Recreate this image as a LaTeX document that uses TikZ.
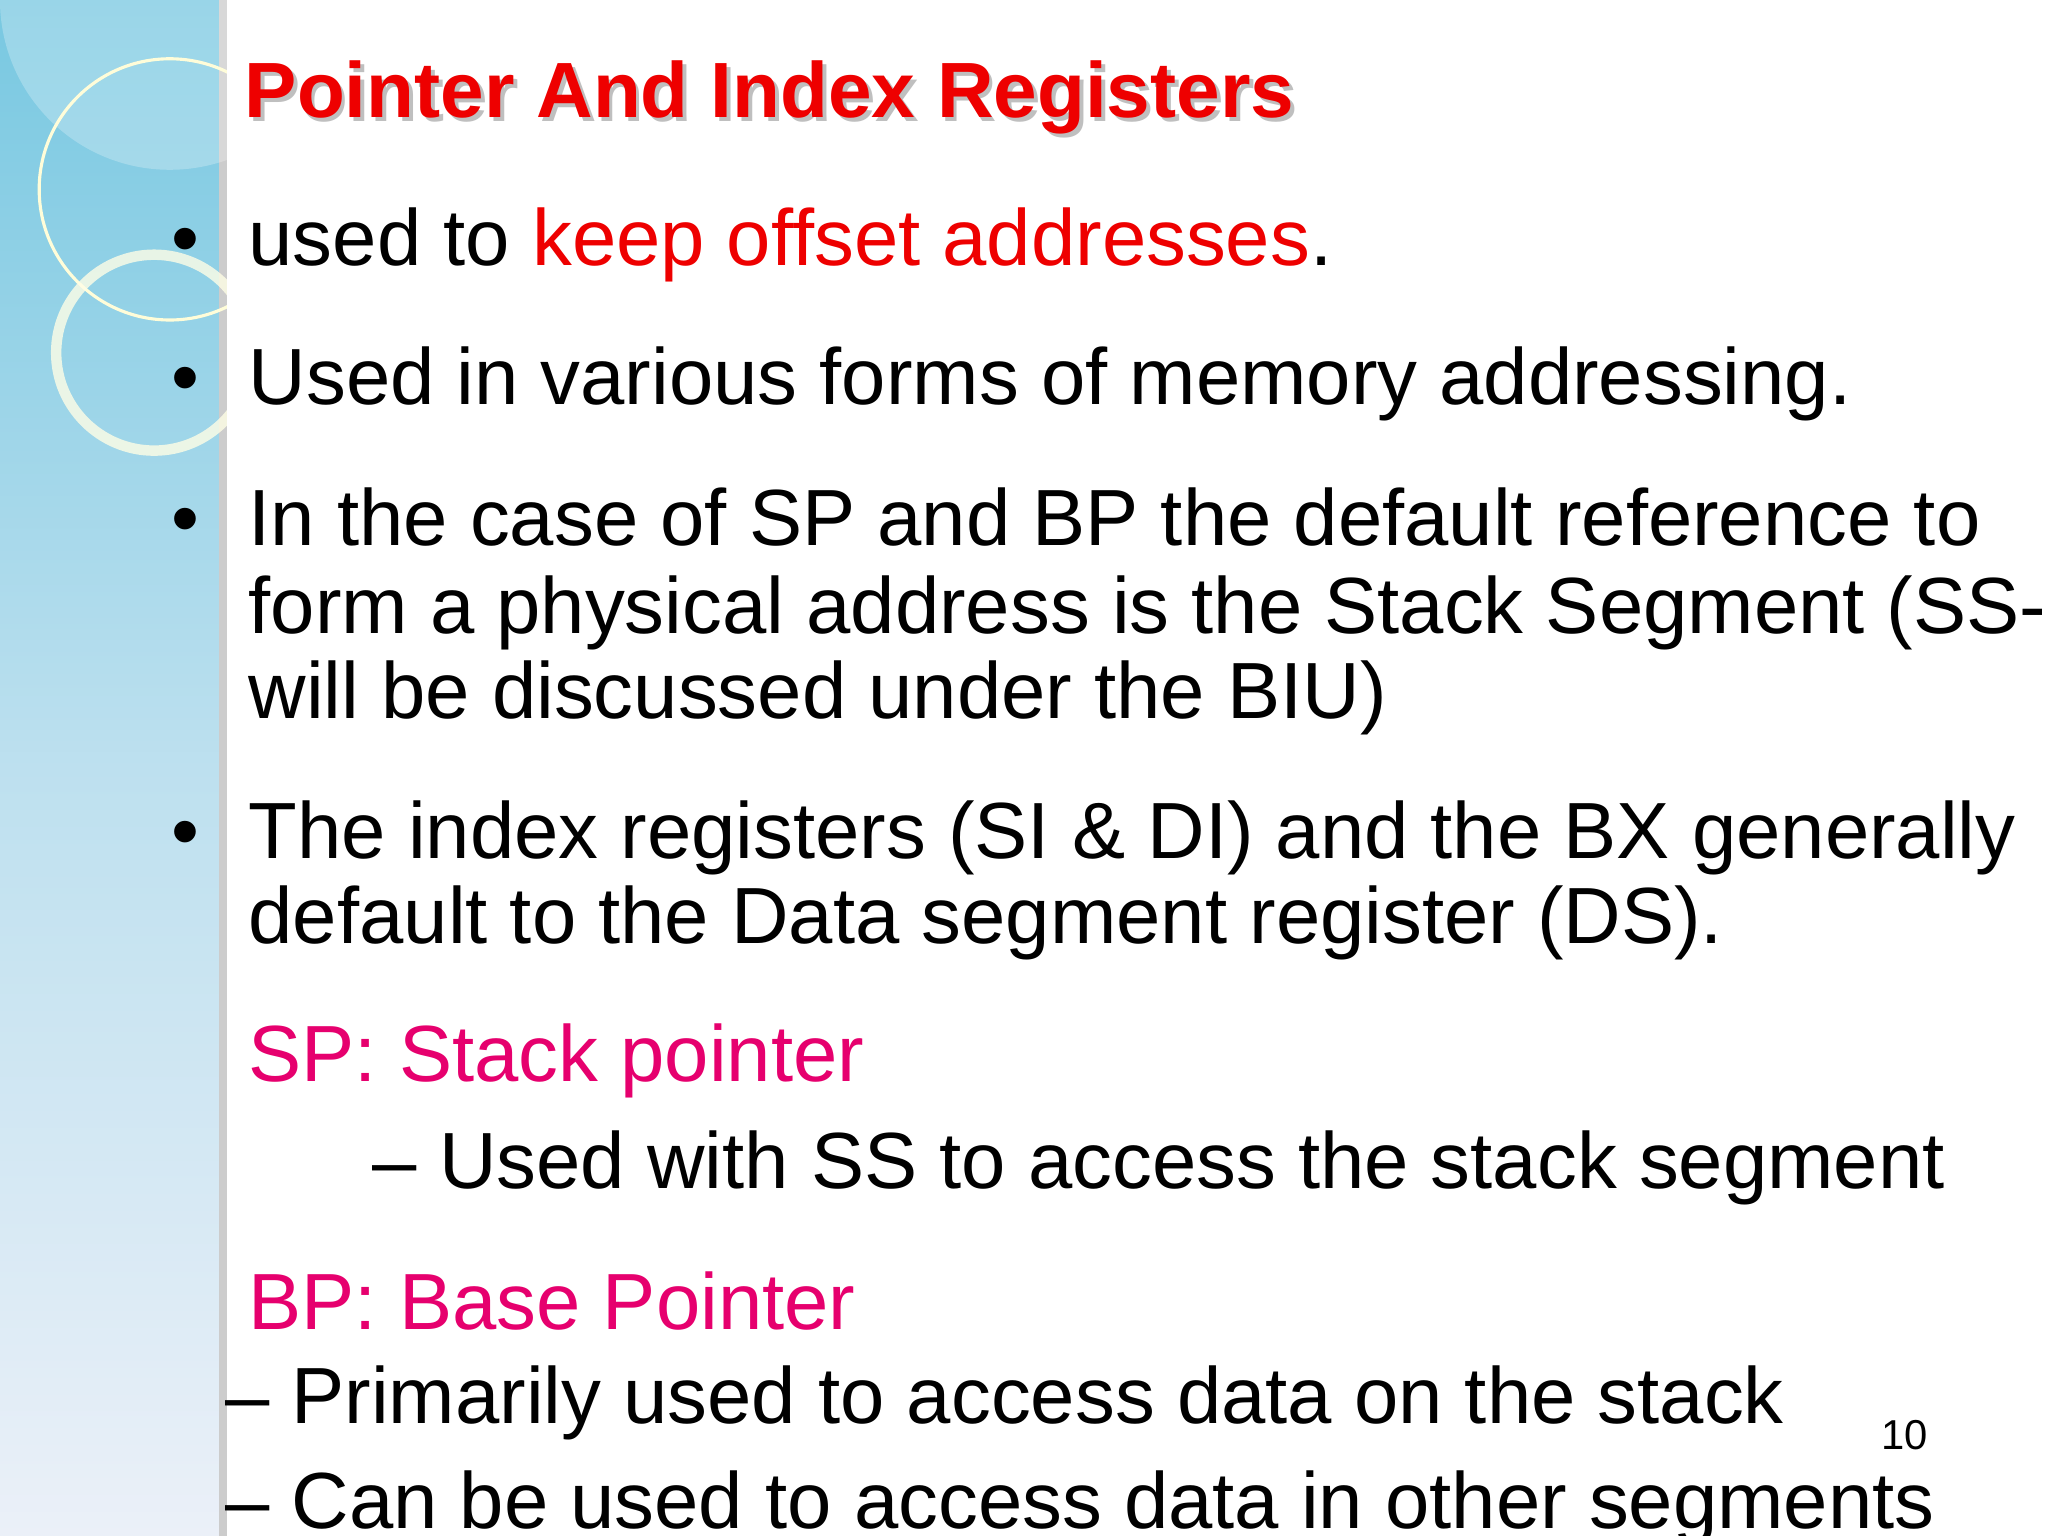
\documentclass[tikz,border=0pt]{standalone}
\usepackage{fontspec}
\setmainfont{Liberation Sans}
\definecolor{tred}{RGB}{238,0,0}
\definecolor{pinkc}{RGB}{230,0,110}
\definecolor{sideA}{RGB}{120,200,225}
\definecolor{sideB}{RGB}{235,240,248}
\begin{document}
\begin{tikzpicture}[x=0.5pt,y=-0.5pt,
  body/.style={anchor=base west,inner sep=0,font=\fontsize{30.5}{32}\selectfont},
  bul/.style={anchor=base,inner sep=0,font=\fontsize{30.5}{32}\selectfont}]
\useasboundingbox (0,0) rectangle (1568,1176);
\clip (0,0) rectangle (1568,1176);
\shade[top color=sideA, bottom color=sideB, middle color=sideA!40!sideB] (0,0) rectangle (172,1176);
\fill[gray!40] (168,0) rectangle (174,1176);
\fill[white,opacity=0.25] (130,0) circle (130);
\draw[white!85!yellow,line width=1.2pt] (130,145) circle (100);
\draw[white!90!yellow,opacity=0.8,line width=4pt] (118,270) circle (75);
\fill[white] (174,0) rectangle (1568,1176);
% title
\node[anchor=base west,inner sep=0,font=\fontsize{30}{32}\selectfont\bfseries,text=gray!50] at (190,93) {Pointer And Index Registers};
\node (title) [anchor=base west,inner sep=0,font=\fontsize{30}{32}\selectfont\bfseries,text=tred] at (187,90) {Pointer And Index Registers};
\foreach \y/\n in {203/b1,310/b2,418/b3,657/b4} \node (\n) [bul] at (142,\y) {•};
\node (t1) [body] at (190,203) {used to \textcolor{tred}{keep offset addresses}.};
\node (t2) [body] at (190,310) {Used in various forms of memory addressing.};
\node (t3a) [body] at (190,418) {In the case of SP and BP the default reference to};
\node (t3b) [body] at (190,485) {form a physical address is the Stack Segment (SS-};
\node (t3c) [body] at (190,550) {will be discussed under the BIU)};
\node (t4a) [body] at (190,657) {The index registers (SI \& DI) and the BX generally};
\node (t4b) [body] at (190,722) {default to the Data segment register (DS).};
\node (sp) [body,text=pinkc] at (190,828) {SP: Stack pointer};
\node (spd) [body] at (285,910) {– Used with SS to access the stack segment};
\node (bp) [body,text=pinkc] at (190,1018) {BP: Base Pointer};
\node (bpd1) [body] at (172,1090) {– Primarily used to access data on the stack};
\node (bpd2) [body] at (172,1170) {– Can be used to access data in other segments};
\node (num) [anchor=base,inner sep=0,font=\fontsize{16}{17}\selectfont] at (1458,1110) {10};
\end{tikzpicture}
\end{document}
